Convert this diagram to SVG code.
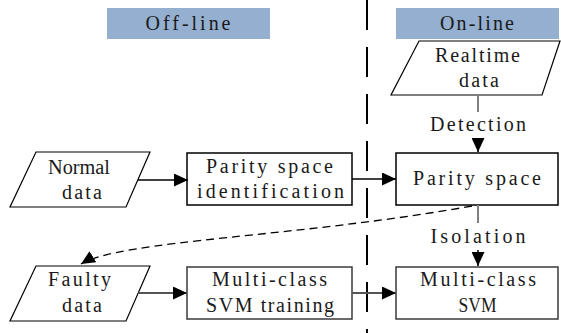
<svg xmlns="http://www.w3.org/2000/svg" width="561" height="333" viewBox="0 0 561 333">
<style>
.t{font-family:"Liberation Serif","Times New Roman",serif;font-size:20px;fill:#1a1a1a;text-anchor:middle}
.hdr{fill:#94AFCF}
.box{fill:#fff;stroke:#000;stroke-width:1.5}
.box2{fill:#fff;stroke:#3a3a3a;stroke-width:1.5}
.para{fill:#fff;stroke:#000;stroke-width:1.2}
.c{fill:none;stroke:#000;stroke-width:1.5}
.cg{fill:none;stroke:#555;stroke-width:2}
.g{fill:none;stroke:#808080;stroke-width:2}
</style>
<defs>
<marker id="ah" markerUnits="userSpaceOnUse" markerWidth="15" markerHeight="13" refX="14" refY="6.5" orient="auto"><path d="M0,0 L14,6.5 L0,13 z" fill="#000"/></marker>
</defs>
<rect width="561" height="333" fill="#fff"/>
<line x1="367" y1="0" x2="367" y2="333" stroke="#000" stroke-width="2" stroke-dasharray="30 17"/>
<g id="offline-header"><rect class="hdr" x="107" y="8" width="163" height="31"/><text class="t" x="188" y="30" textLength="85" lengthAdjust="spacing">Off-line</text></g>
<g id="online-header"><rect class="hdr" x="396" y="8" width="163" height="31"/><text class="t" x="477" y="30" textLength="74" lengthAdjust="spacing">On-line</text></g>
<g id="realtime-data"><polygon class="para" points="419,41 560,41 542,95 391,95"/><text class="t" x="477.5" y="62" textLength="85" lengthAdjust="spacing">Realtime</text><text class="t" x="479" y="87" textLength="40" lengthAdjust="spacing">data</text></g>
<g id="normal-data"><polygon class="para" points="36,152 150,152 126,207 10,207"/><text class="t" x="79" y="174" textLength="62" lengthAdjust="spacingAndGlyphs">Normal</text><text class="t" x="82" y="199" textLength="40" lengthAdjust="spacing">data</text></g>
<g id="parity-id"><rect class="box" x="187" y="153" width="165" height="52"/><text class="t" x="269.5" y="173" textLength="127" lengthAdjust="spacing">Parity space</text><text class="t" x="270.5" y="198" textLength="147" lengthAdjust="spacing">identification</text></g>
<g id="parity-space"><rect class="box" x="396" y="153" width="162" height="52"/><text class="t" x="477" y="185" textLength="128" lengthAdjust="spacing">Parity space</text></g>
<g id="faulty-data"><polygon class="para" points="36,266 150,266 126,321 10,321"/><text class="t" x="79.5" y="286" textLength="63" lengthAdjust="spacing">Faulty</text><text class="t" x="82" y="312" textLength="40" lengthAdjust="spacing">data</text></g>
<g id="svm-training"><rect class="box2" x="187" y="267" width="165" height="52"/><text class="t" x="269.5" y="286" textLength="115" lengthAdjust="spacing">Multi-class</text><text class="t" x="270" y="312" textLength="128" lengthAdjust="spacing">SVM training</text></g>
<g id="svm"><rect class="box2" x="396" y="267" width="162" height="52"/><text class="t" x="478" y="286" textLength="116" lengthAdjust="spacing">Multi-class</text><text class="t" x="477.5" y="312" textLength="38" lengthAdjust="spacingAndGlyphs">SVM</text></g>
<g id="connectors">
<line class="c" x1="138" y1="180" x2="188" y2="180" marker-end="url(#ah)"/>
<line class="c" x1="352" y1="179" x2="396" y2="179" marker-end="url(#ah)"/>
<line class="cg" x1="138" y1="293" x2="187" y2="293" marker-end="url(#ah)"/>
<line class="cg" x1="352" y1="293" x2="396" y2="293" marker-end="url(#ah)"/>
<line class="g" x1="478" y1="95" x2="478" y2="112"/>
<text class="t" x="478" y="131" textLength="96" lengthAdjust="spacing">Detection</text>
<line class="c" x1="478" y1="139" x2="478" y2="152" marker-end="url(#ah)"/>
<line class="g" x1="478" y1="205" x2="478" y2="223"/>
<text class="t" x="478" y="243" textLength="95" lengthAdjust="spacing">Isolation</text>
<line class="c" x1="478" y1="250" x2="478" y2="266" marker-end="url(#ah)"/>
<path d="M472,206 C300,237 120,240 81,264" fill="none" stroke="#000" stroke-width="1.3" stroke-dasharray="8 5" marker-end="url(#ah)"/>
</g>
</svg>
